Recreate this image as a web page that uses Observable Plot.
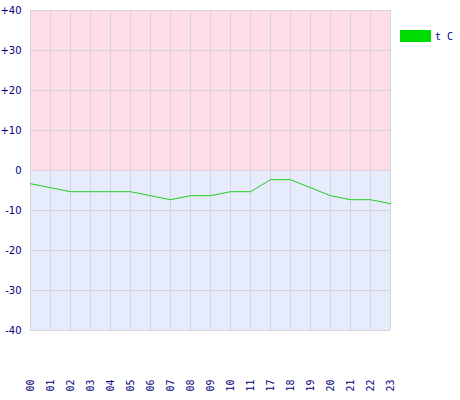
<!DOCTYPE html>
<html>
<head>
<meta charset="utf-8">
<script src="https://cdn.jsdelivr.net/npm/d3@7"></script>
<script src="https://cdn.jsdelivr.net/npm/@observablehq/plot@0.6"></script>
<style>
  html, body { margin: 0; padding: 0; background: #ffffff; }
  #wrap { position: relative; width: 460px; height: 400px; }
  #legend { position: absolute; left: 400px; top: 30px; display: flex; align-items: center;
            font-family: "DejaVu Sans Mono", monospace; font-size: 10px; color: #000080; }
  #legend .sw { width: 31px; height: 12px; background: #00dd00; margin-right: 4px; }
</style>
</head>
<body>
<div id="wrap">
  <div id="chart"></div>
  <div id="legend"><div class="sw"></div><span id="legendLabel"></span></div>
</div>
<script>
const hours = ["00","01","02","03","04","05","06","07","08","09","10","11","17","18","19","20","21","22","23"];
const temps = [-3.3,-4.3,-5.3,-5.3,-5.3,-5.3,-6.3,-7.3,-6.3,-6.3,-5.3,-5.3,-2.3,-2.3,-4.3,-6.3,-7.3,-7.3,-8.3];
const yTicks = [40,30,20,10,0,-10,-20,-30,-40];
const seriesName = "t C";
const bands = [
  {y1: 0, y2: 40, fill: "#ffdde6"},
  {y1: -40, y2: 0, fill: "#e6ecfb"}
];

const data = hours.map((h, i) => ({h, t: temps[i]}));
document.getElementById("legendLabel").textContent = seriesName;

const chart = Plot.plot({
  width: 460,
  height: 400,
  marginLeft: 30,
  marginRight: 70,
  marginTop: 10,
  marginBottom: 70,
  style: {fontFamily: "DejaVu Sans, Verdana, sans-serif", fontSize: "10px", background: "#ffffff"},
  x: {type: "point", domain: hours, padding: 0},
  y: {domain: [-40, 40]},
  marks: [
    Plot.rectY(bands, {y1: "y1", y2: "y2", fill: d => d.fill}),
    Plot.ruleX(hours, {stroke: "#d4d4dc", strokeWidth: 1}),
    Plot.ruleY(yTicks, {stroke: "#d4d4dc", strokeWidth: 1}),
    Plot.line(data, {x: "h", y: "t", stroke: "#22cc22", strokeWidth: 1}),
    Plot.axisY({ticks: yTicks, tickSize: 0, tickPadding: 9, fill: "#000080",
      fontSize: 10, tickFormat: d => d > 0 ? "+" + d : String(d), label: null}),
    Plot.axisX({tickSize: 0, tickRotate: -90, tickPadding: 49, fill: "#000080",
      fontSize: 10, fontFamily: "DejaVu Sans Mono, monospace", label: null})
  ]
});
document.getElementById("chart").appendChild(chart);
</script>
</body>
</html>
